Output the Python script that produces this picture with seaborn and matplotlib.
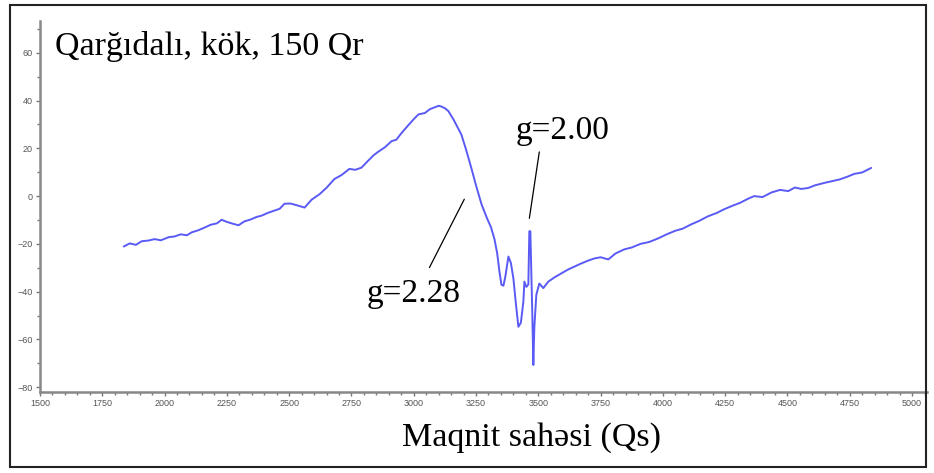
import matplotlib
matplotlib.use('Agg')
import matplotlib.pyplot as plt
import seaborn as sns
import pandas as pd
from matplotlib.patches import Rectangle
from matplotlib.ticker import MultipleLocator

# EPR spectrum: field (Qs) and signal
field = [1836, 1860, 1885, 1908, 1935, 1960, 1985, 2016, 2040, 2065, 2090, 2108,
         2135, 2160, 2185, 2210, 2229, 2250, 2275, 2297, 2320, 2345, 2370, 2389,
         2415, 2440, 2462, 2481, 2505, 2530, 2562, 2590, 2622, 2650, 2682, 2710,
         2742, 2765, 2790, 2815, 2840, 2858, 2885, 2911, 2930, 2951, 2975, 3000,
         3019, 3045, 3065, 3083, 3100, 3111, 3125, 3139, 3160, 3175, 3191, 3210,
         3231, 3250, 3272, 3295, 3310, 3324, 3335, 3344, 3352, 3360, 3368, 3380,
         3390, 3400, 3410, 3420, 3430, 3440, 3444, 3452, 3460, 3464, 3468, 3472,
         3476, 3480, 3484, 3492, 3504, 3520, 3540, 3565, 3592, 3620, 3645, 3670,
         3700, 3725, 3750, 3781, 3810, 3845, 3875, 3910, 3945, 3981, 4015, 4050,
         4080, 4114, 4145, 4180, 4215, 4246, 4280, 4310, 4340, 4366, 4400, 4435,
         4470, 4503, 4530, 4555, 4583, 4610, 4647, 4680, 4710, 4740, 4768, 4800, 4836]
signal = [-21.1, -19.8, -20.4, -18.9, -18.6, -18.0, -18.5, -17.2, -16.9, -16.0, -16.4, -15.2,
          -14.3, -13.2, -12.0, -11.4, -9.9, -10.8, -11.6, -12.2, -10.6, -9.8, -8.7, -8.2,
          -7.0, -6.1, -5.3, -3.2, -3.1, -3.8, -4.8, -1.5, 0.8, 3.5, 7.2, 8.8,
          11.4, 11.0, 11.9, 14.6, 17.2, 18.6, 20.5, 23.0, 23.6, 26.4, 29.3, 32.2,
          34.2, 34.8, 36.4, 37.1, 37.8, 37.5, 36.8, 35.6, 32.0, 29.0, 25.8, 19.5,
          11.8, 4.5, -3.4, -9.5, -13.0, -18.0, -24.0, -31.6, -37.1, -37.5, -33.5, -25.3,
          -28.0, -34.5, -45.0, -54.7, -53.0, -44.2, -35.8, -38.0, -37.0, -14.7, -14.7, -31.6,
          -50.0, -70.7, -55.0, -41.3, -36.6, -38.5, -35.8, -34.0, -32.4, -30.7, -29.5, -28.3,
          -27.0, -26.1, -25.6, -26.5, -24.0, -22.3, -21.5, -20.0, -19.2, -17.7, -16.0, -14.5,
          -13.6, -11.8, -10.4, -8.5, -7.1, -5.5, -4.0, -2.8, -1.2, 0.0, -0.4, 1.5,
          2.6, 2.1, 3.6, 3.0, 3.4, 4.5, 5.5, 6.3, 7.0, 8.1, 9.3, 9.9, 11.8]

title_text = 'Qarğıdalı, kök, 150 Qr'
xlabel_text = 'Maqnit sahəsi (Qs)'
g_labels = ['g=2.28', 'g=2.00']

df = pd.DataFrame({'field': field, 'signal': signal})

sns.set_style('ticks')
serif = ['Liberation Serif', 'DejaVu Serif']
plt.rcParams['font.family'] = ['Liberation Sans', 'DejaVu Sans']

fig = plt.figure(figsize=(9.34, 4.73), dpi=100)
ax = fig.add_axes([40 / 934, 1 - 392 / 473, 887 / 934, 371 / 473])

sns.lineplot(data=df, x='field', y='signal', ax=ax, sort=False, estimator=None,
             color='#5a5af5', linewidth=1.4)

ax.set_xlim(1500, 5060)
ax.set_ylim(-82, 73.3)
ax.xaxis.set_major_locator(MultipleLocator(250))
ax.xaxis.set_minor_locator(MultipleLocator(50))
ax.yaxis.set_major_locator(MultipleLocator(20))
ax.yaxis.set_minor_locator(MultipleLocator(10))
ax.tick_params(which='both', colors='#777777', labelcolor='#555555', labelsize=6.5,
               width=1, direction='out')
ax.tick_params(which='major', length=3, pad=2)
ax.tick_params(which='minor', length=2)
for s in ['top', 'right']:
    ax.spines[s].set_visible(False)
for s in ['left', 'bottom']:
    ax.spines[s].set_color('#888888')
    ax.spines[s].set_linewidth(1.8)
ax.set_xlabel('')
ax.set_ylabel('')

# annotations
ax.text(2810, -44.2, g_labels[0], fontsize=24, family=serif, va='baseline', color='black')
ax.plot([3203, 3063], [-1.3, -29.9], color='black', lw=0.9)
ax.text(3408, 24.0, g_labels[1], fontsize=24, family=serif, va='baseline', color='black')
ax.plot([3504, 3464], [18.5, -9.3], color='black', lw=0.9)

fig.text(55 / 934, 1 - 55 / 473, title_text, fontsize=24.5, family=serif, va='baseline',
         color='black')
fig.text(531 / 934, 1 - 446 / 473, xlabel_text, fontsize=24.5, family=serif,
         ha='center', va='baseline', color='black')

fig.patches.append(Rectangle((10 / 934, 1 - 467 / 473), 916 / 934, 462 / 473,
                             transform=fig.transFigure, fill=False,
                             edgecolor='#222222', linewidth=1.5))

fig.savefig('out.png', dpi=100)
